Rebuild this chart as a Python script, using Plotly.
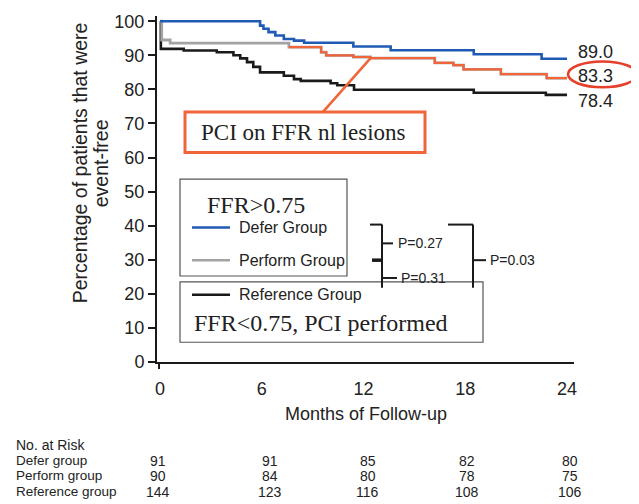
import plotly.graph_objects as go

# ---------------- data ----------------
defer_t = [0, 5.9, 6.1, 6.4, 6.8, 7.3, 7.9, 8.5, 11.4, 13.6, 18.5, 22.5, 24]
defer_v = [100, 98.7, 97.8, 96.8, 95.8, 94.8, 94.3, 93.7, 92.6, 91.5, 90.3, 89.0, 89.0]

perform_t = [0, 0.1, 0.6, 7.6, 9.5, 9.8, 11.4, 12.4, 16.2, 17.3, 17.9, 20.1, 22.8, 24]
perform_v = [100, 94.5, 93.6, 92.4, 90.9, 90.0, 89.5, 89.2, 87.8, 87.1, 85.9, 84.5, 83.3, 83.3]

reference_t = [0, 0.05, 1.4, 3.35, 4.33, 4.73, 5.13, 5.5, 5.9, 7.3, 7.9, 8.3, 10.06, 10.45, 11.44, 18.5, 22.75, 24]
reference_v = [100, 91.9, 91.4, 90.9, 90.0, 89.1, 88.0, 86.6, 85.0, 84.0, 83.0, 82.5, 81.8, 81.2, 79.9, 79.0, 78.4, 78.4]

highlight_start = 7.6  # PCI on FFR nl lesions: highlighted part of the perform curve

end_labels = ["89.0", "83.3", "78.4"]

x_ticks = [0, 6, 12, 18, 24]
y_ticks = [0, 10, 20, 30, 40, 50, 60, 70, 80, 90, 100]

risk_groups = ["Defer group", "Perform group", "Reference group"]
risk_defer = [91, 91, 85, 82, 80]
risk_perform = [90, 84, 80, 78, 75]
risk_reference = [144, 123, 116, 108, 106]

p_values = ["P=0.27", "P=0.31", "P=0.03"]

# ---------------- layout geometry (window pixels -> paper) ----------------
OFF = 8                      # default body margin of the html page
W, H = 639 - OFF, 504 - OFF
PLOT_LEFT, PLOT_RIGHT, PLOT_TOP, PLOT_BOTTOM = 157, 574, 12, 362   # in window pixels
L = PLOT_LEFT - OFF
T = PLOT_TOP - OFF
R = W - (PLOT_RIGHT - OFF)
B = H - (PLOT_BOTTOM - OFF)
PW, PH = W - L - R, H - T - B
PX_PER_MONTH = 16.96
X0 = -(160 - PLOT_LEFT) / PX_PER_MONTH
X1 = X0 + PW / PX_PER_MONTH
Y1 = PH / 3.447


def px(x):
    return (x - PLOT_LEFT) / PW


def py(y):
    return (PLOT_BOTTOM - y) / PH


BLUE = "#1f5ab5"
GRAY = "#a3a3a3"
BLACK = "#1a1a1a"
ORANGE = "#f0653a"
RED = "#e63f2a"
TXT = "#222222"
SANS = "Liberation Sans, Arial, sans-serif"
SERIF = "Liberation Serif, Times New Roman, serif"

fig = go.Figure()
fig.add_trace(go.Scatter(x=reference_t, y=reference_v, mode="lines", line=dict(color=BLACK, width=2.6, shape="hv")))
fig.add_trace(go.Scatter(x=perform_t, y=perform_v, mode="lines", line=dict(color=GRAY, width=2.8, shape="hv")))
hi_t = [t for t in perform_t if t >= highlight_start]
hi_v = [v for t, v in zip(perform_t, perform_v) if t >= highlight_start]
fig.add_trace(go.Scatter(x=hi_t, y=hi_v, mode="lines", line=dict(color=ORANGE, width=2.2, shape="hv")))
fig.add_trace(go.Scatter(x=defer_t, y=defer_v, mode="lines", line=dict(color=BLUE, width=2.6, shape="hv")))

shapes = []
annotations = []


def text(x, y, s, size, family=SANS, xanchor="center", xref="paper", xshift=0, angle=0):
    annotations.append(dict(x=x, y=y, xref=xref, yref="paper", text=s, showarrow=False,
                            xanchor=xanchor, yanchor="middle", xshift=xshift, textangle=angle,
                            font=dict(family=family, size=size, color=TXT)))


def seg(x0, y0, x1, y1, w=2, color=BLACK):
    shapes.append(dict(type="line", xref="paper", yref="paper", x0=px(x0), y0=py(y0), x1=px(x1), y1=py(y1),
                       line=dict(color=color, width=w)))


# end labels (set slightly apart from the curve ends, as in the original)
for lab, yy in zip(end_labels, [48, 72.5, 97.5]):
    text(px(576), py(yy), lab, 18, xanchor="left")
# red ellipse around 83.3
shapes.append(dict(type="circle", xref="paper", yref="paper", x0=px(568), x1=px(637), y0=py(84), y1=py(58),
                   line=dict(color=RED, width=2.6)))

# PCI on FFR nl lesions callout
seg(323, 109, 371, 54, 2.6, ORANGE)
shapes.append(dict(type="rect", xref="paper", yref="paper", x0=px(185), x1=px(425), y0=py(150), y1=py(109),
                   line=dict(color=ORANGE, width=3), fillcolor="white", layer="above"))
text(px(303), py(130), "PCI on FFR nl lesions", 23, SERIF)

# legend boxes
shapes.append(dict(type="rect", xref="paper", yref="paper", x0=px(180), x1=px(347), y0=py(275), y1=py(177),
                   line=dict(color="#555555", width=1.2)))
shapes.append(dict(type="rect", xref="paper", yref="paper", x0=px(180), x1=px(483), y0=py(342), y1=py(281),
                   line=dict(color="#555555", width=1.2)))
text(px(256), py(203), "FFR&gt;0.75", 24, SERIF)
text(px(321), py(323), "FFR&lt;0.75, PCI performed", 24, SERIF)
for name, col, yy in [("Defer Group", BLUE, 226), ("Perform Group", GRAY, 259), ("Reference Group", BLACK, 294)]:
    seg(192, yy, 230, yy, 2.6, col)
    text(px(237), py(yy), name, 16, xanchor="left")

# brackets with p-values
seg(370, 223, 382, 223)
seg(382, 223, 382, 287)
seg(382, 242, 393, 242)
seg(372, 259, 382, 259, 3.5)
seg(382, 277, 397, 277)
seg(448, 223, 473, 223)
seg(473, 223, 473, 287)
seg(473, 259, 486, 259)
for s, xx, yy in zip(p_values, [396, 399, 488], [242, 277, 259]):
    text(px(xx), py(yy), s, 14, xanchor="left")

# y-axis extension below x-axis
seg(159, 362, 159, 369, 2)

# axis titles
text(px(80), py(161), "Percentage of patients that were", 19.5, angle=-90)
text(px(101), py(161), "event-free", 19.5, angle=-90)
text(px(366), py(415), "Months of Follow-up", 18)

# number at risk table
text(px(14), py(446), "No. at Risk", 14, xanchor="left")
col_shift = [-2, 8, 4, 2, 3]
for g, vals, yy in zip(risk_groups, [risk_defer, risk_perform, risk_reference], [462, 477, 493]):
    text(px(14), py(yy), g, 13.5, xanchor="left")
    for m, v, s in zip(x_ticks, vals, col_shift):
        text(m, py(yy), str(v), 14, xref="x", xshift=s)

fig.update_layout(
    width=W, height=H,
    margin=dict(l=L, r=R, t=T, b=B, pad=0),
    plot_bgcolor="white", paper_bgcolor="white",
    showlegend=False,
    shapes=shapes, annotations=annotations,
    xaxis=dict(range=[X0, X1], tickvals=x_ticks, ticktext=[str(v) for v in x_ticks],
               showgrid=False, zeroline=False, showline=True, linecolor=BLACK, linewidth=2,
               ticks="outside", ticklen=9, tickcolor="rgba(0,0,0,0)", ticklabeloverflow="allow",
               tickfont=dict(family=SANS, size=18, color=TXT)),
    yaxis=dict(range=[0, Y1], tickvals=y_ticks, showgrid=False, zeroline=False,
               showline=True, linecolor=BLACK, linewidth=2, ticks="outside", ticklen=7,
               tickwidth=1.5, tickcolor=BLACK, ticklabeloverflow="allow",
               tickfont=dict(family=SANS, size=18, color=TXT)),
)

fig.write_html("out.html")
